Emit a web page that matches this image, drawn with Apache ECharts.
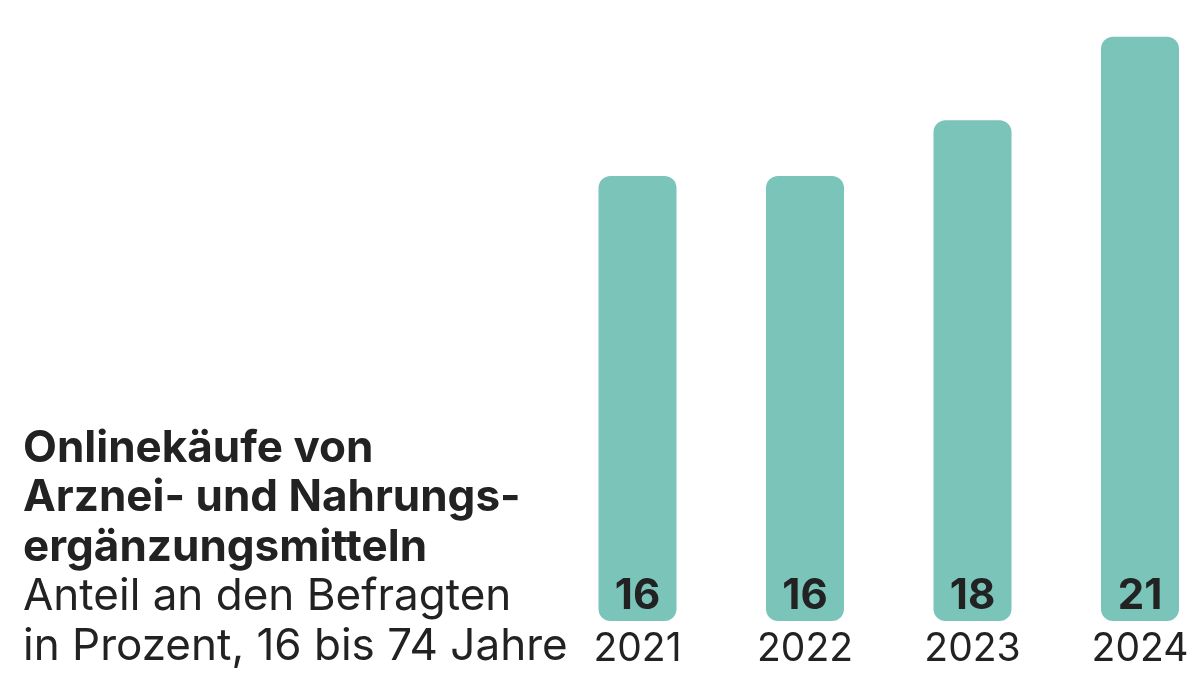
<!DOCTYPE html>
<html>
<head>
<meta charset="utf-8">
<script src="https://cdn.jsdelivr.net/npm/echarts@6/dist/echarts.min.js"></script>
<style>html,body{margin:0;padding:0;background:#fff}#c{width:1200px;height:688px}</style>
</head>
<body>
<div id="c"></div>
<script>
const years = ['2021', '2022', '2023', '2024'];
const shares = [16, 16, 18, 21];
const titleLines = ['Onlinekäufe von', 'Arznei- und Nahrungs-', 'ergänzungsmitteln'];
const subtitleLines = ['Anteil an den Befragten', 'in Prozent, 16 bis 74 Jahre'];

const FONT = 'Inter, "Noto Sans", sans-serif';
const chart = echarts.init(document.getElementById('c'), null, {renderer: 'canvas'});
const titleText = titleLines.map(l => '{b|' + l + '}').join('\n') + '\n' +
  subtitleLines.map(l => '{n|' + l + '}').join('\n');
chart.setOption({
  animation: false,
  backgroundColor: '#ffffff',
  title: {
    left: 23,
    top: 424,
    padding: 0,
    text: titleText,
    textStyle: {
      rich: {
        b: {fontFamily: FONT, fontSize: 44, fontWeight: 'bold', color: '#222222', lineHeight: 49.5},
        n: {fontFamily: FONT, fontSize: 44, fontWeight: 'normal', color: '#222222', lineHeight: 49.5}
      }
    }
  },
  grid: {left: 637.5, right: 60, top: 9, bottom: 67, containLabel: false},
  xAxis: {
    type: 'category',
    data: years,
    boundaryGap: false,
    axisLine: {show: false},
    axisTick: {show: false},
    axisLabel: {fontFamily: FONT, fontSize: 39, color: '#222222', margin: 9}
  },
  yAxis: {
    type: 'value', min: 0, max: 22,
    show: false,
    splitLine: {show: false}
  },
  series: [{
    type: 'bar',
    data: shares,
    barWidth: 78,
    itemStyle: {color: '#7AC4BA', borderRadius: 12},
    label: {
      show: true,
      position: 'insideBottom',
      distance: 4,
      fontFamily: FONT,
      fontSize: 42,
      fontWeight: 'bold',
      color: '#222222'
    }
  }]
});
</script>
</body>
</html>
